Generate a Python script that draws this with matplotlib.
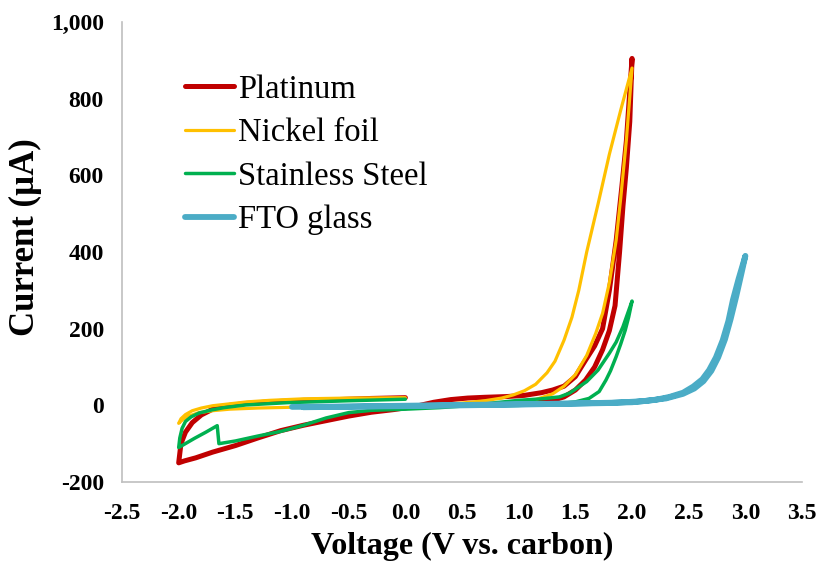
import matplotlib
matplotlib.use('Agg')
import matplotlib.pyplot as plt
from matplotlib.ticker import FuncFormatter, MultipleLocator

plt.rcParams['font.family'] = 'Liberation Serif'
plt.rcParams['axes.unicode_minus'] = False

# Platinum: 0 V -> -2 V -> +2 V -> back
pt_v = [0.0, -0.3, -0.6, -0.9, -1.2, -1.4, -1.55, -1.7, -1.8, -1.88, -1.94, -1.98, -2.0,
        -1.95, -1.85, -1.7, -1.5, -1.3, -1.1, -0.9, -0.7, -0.5, -0.3, -0.1, 0.1, 0.25, 0.4,
        0.55, 0.7, 0.9, 1.05, 1.2, 1.3, 1.4, 1.5, 1.59, 1.67, 1.74, 1.8, 1.86, 1.91, 1.95, 2.0,
        1.98, 1.95, 1.92, 1.89, 1.85, 1.8, 1.74, 1.67, 1.59, 1.5, 1.4, 1.3, 1.1, 0.8, 0.4, 0.2]
pt_i = [20, 18, 15, 13, 9, 5, 0, -10, -25, -45, -70, -100, -150,
        -145, -137, -122, -105, -85, -66, -52, -40, -28, -18, -11, -2, 8, 15,
        19, 21, 23, 26, 33, 40, 50, 75, 118, 155, 200, 300, 430, 570, 690, 905,
        740, 620, 520, 400, 260, 195, 145, 100, 66, 40, 22, 13, 6, 3, 1, 0]

# Nickel foil
ni_v = [0.0, -0.5, -0.9, -1.2, -1.4, -1.55, -1.7, -1.8, -1.88, -1.94, -1.98, -2.0,
        -1.96, -1.9, -1.82, -1.7, -1.55, -1.3, -1.0, -0.5, 0.0, 0.3, 0.5, 0.7, 0.85, 0.95,
        1.05, 1.15, 1.25, 1.32, 1.4, 1.47, 1.53, 1.6, 1.7, 1.8, 1.9, 2.0,
        1.95, 1.9, 1.86, 1.8, 1.74, 1.68, 1.6, 1.5, 1.4, 1.3, 1.15, 1.0, 0.8, 0.6]
ni_i = [20, 19, 17, 13, 9, 4, -1, -7, -14, -24, -35, -47,
        -36, -27, -19, -14, -10, -7, -5, -3, -1, 2, 6, 12, 19, 27,
        38, 55, 85, 115, 170, 230, 300, 400, 525, 655, 770, 880,
        692, 540, 431, 320, 240, 188, 130, 80, 50, 30, 15, 8, 4, 3]

# Stainless Steel
ss_v = [0.0, -0.5, -1.04, -1.41, -1.6, -1.71, -1.82, -1.89, -1.94, -1.97, -1.99, -2.0,
        -1.93, -1.86, -1.76, -1.66, -1.645, -1.5, -1.3, -1.1, -0.9, -0.7, -0.5, -0.3, 0.0,
        0.3, 0.6, 0.8, 1.0, 1.2, 1.36, 1.45, 1.5, 1.6, 1.7, 1.8, 1.86, 1.92, 2.0,
        1.97, 1.94, 1.9, 1.86, 1.81, 1.77, 1.71, 1.62, 1.5, 1.35, 1.2, 1.0, 0.6]
ss_i = [16, 12, 7, 1, -6, -12, -20, -30, -42, -60, -85, -110,
        -98, -86, -70, -53, -100, -93, -80, -68, -52, -33, -19, -13, -10,
        -6, 0, 7, 13, 17, 22, 32, 42, 62, 92, 136, 165, 205, 272,
        230, 196, 160, 127, 90, 66, 36, 18, 9, 4, 2, 0, -2]

# FTO glass: -1 V -> +3 V -> back
fto_v = [-1.0, -0.5, 0.0, 0.5, 1.0, 1.5, 2.0, 2.2, 2.33, 2.45, 2.54, 2.62, 2.68, 2.74,
         2.8, 2.85, 2.89, 2.94, 3.0,
         2.97, 2.92, 2.87, 2.82, 2.76, 2.7, 2.63, 2.55, 2.45, 2.3, 2.1, 1.8, 1.0, 0.0, -0.9]
fto_i = [-4, -3, -1, 1, 3, 5, 8, 14, 22, 33, 49, 68, 92, 125,
         170, 220, 275, 330, 390,
         350, 285, 225, 172, 125, 90, 63, 44, 30, 18, 11, 6, 2, -2, -5]

series = [
    ('Platinum', pt_v, pt_i, '#C00000', 3.6),
    ('Nickel foil', ni_v, ni_i, '#FFC000', 2.3),
    ('Stainless Steel', ss_v, ss_i, '#00B050', 2.5),
    ('FTO glass', fto_v, fto_i, '#4BACC6', 4.2),
]

fig = plt.figure(figsize=(8.2, 5.66), dpi=100)
ax = fig.add_axes([0.1488, 0.1484, 0.8293, 0.8127])

for label, v, i, color, lw in series:
    ax.plot(v, i, color=color, lw=lw, label=label,
            solid_capstyle='round', solid_joinstyle='round')

ax.set_xlim(-2.5, 3.5)
ax.set_ylim(-200, 1000)
ax.xaxis.set_major_locator(MultipleLocator(0.5))
ax.yaxis.set_major_locator(MultipleLocator(200))
ax.xaxis.set_major_formatter(FuncFormatter(lambda x, p: f'{x:.1f}'))
ax.yaxis.set_major_formatter(FuncFormatter(lambda y, p: f'{y:,.0f}'))

for side in ['top', 'right']:
    ax.spines[side].set_visible(False)
for side in ['left', 'bottom']:
    ax.spines[side].set_color('#BFBFBF')
    ax.spines[side].set_linewidth(1.2)

ax.tick_params(length=0, labelsize=17)
ax.tick_params(axis='x', pad=15)
ax.tick_params(axis='y', pad=13)
for lab in ax.get_xticklabels() + ax.get_yticklabels():
    lab.set_fontweight('bold')

ax.set_xlabel('Voltage (V vs. carbon)', fontsize=23, fontweight='bold', labelpad=6)
ax.set_ylabel('Current (µA)', fontsize=25, fontweight='bold')
ax.yaxis.set_label_coords(-0.118, 0.533)

ax.legend(loc='upper left', bbox_to_anchor=(0.073, 0.915), frameon=False,
          fontsize=23.5, handlelength=1.5, handletextpad=0.12, labelspacing=0.4,
          borderaxespad=0)

fig.savefig('out.png', dpi=100)
